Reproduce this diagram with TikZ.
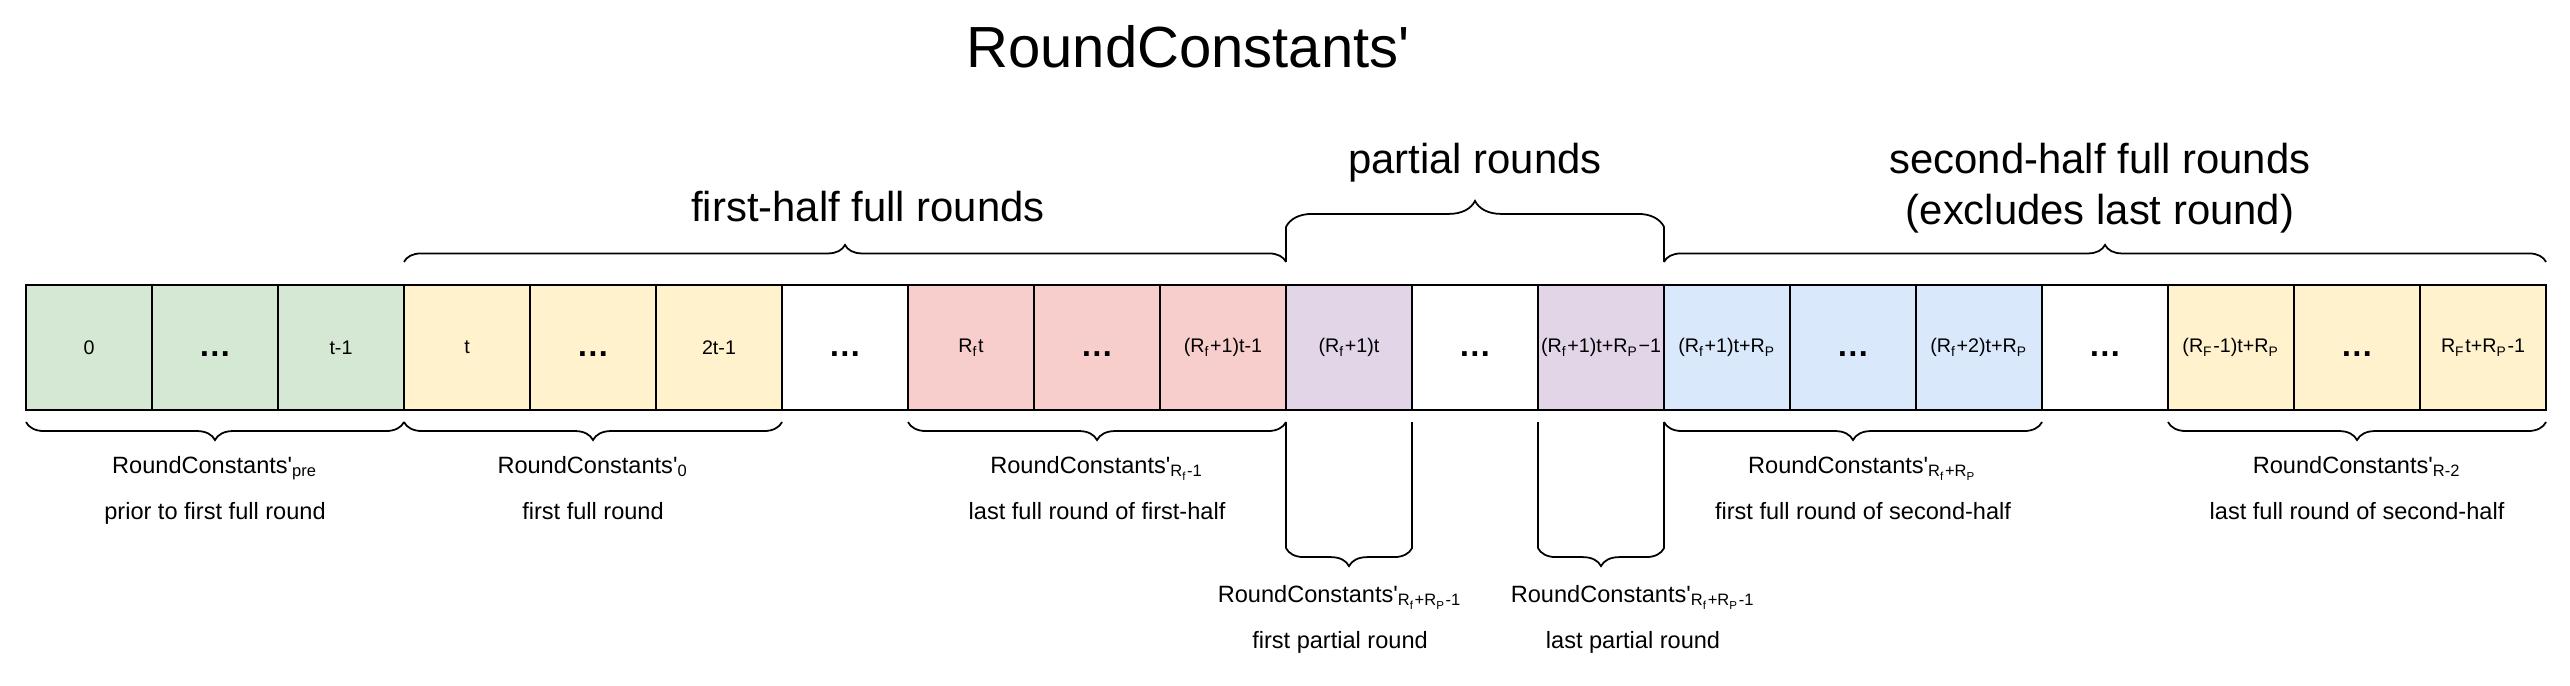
\documentclass[tikz,border=0pt]{standalone}
\usepackage{fontspec}
\setmainfont{Liberation Sans}[Ligatures=TeXOff]
\usetikzlibrary{positioning, decorations.pathreplacing}
\definecolor{rcgreen}{HTML}{D5E8D4}
\definecolor{rcyellow}{HTML}{FFF2CC}
\definecolor{rcred}{HTML}{F8CECC}
\definecolor{rcpurple}{HTML}{E1D5E7}
\definecolor{rcblue}{HTML}{DAE8FC}
\newcommand{\rcname}{RoundConstants'}
\newcommand{\sbs}[1]{\textsubscript{#1}}
\newcommand{\ddd}{\smash{\raisebox{-0.095cm}{\fontsize{9.3}{9.3}\selectfont\bfseries\textellipsis}}}

\begin{document}
\begin{tikzpicture}[x=0.01cm, y=-0.01cm]
  \tikzset{
    cell/.style={rectangle, draw=black, line width=0.6pt, fill=#1, inner sep=0pt, outer sep=0pt,
      minimum width=1.26cm, minimum height=1.25cm, font=\fontsize{5.6}{6.5}\selectfont},
    brc/.style={decorate, decoration={brace, amplitude=0.17cm}, line width=0.5pt},
    brcb/.style={decorate, decoration={brace, amplitude=0.18cm, mirror}, line width=0.5pt},
    head/.style={font=\fontsize{11.9}{14.5}\selectfont, align=center, inner sep=0pt},
    lbl/.style={font=\fontsize{6.7}{13.1}\selectfont, align=center, inner sep=0pt},
  }
  \useasboundingbox (0,0) rectangle (2570,686);

  \node[font=\fontsize{16.5}{18}\selectfont, inner sep=0pt, anchor=south] (title) at (1188,69) {\rcname};

  % the row of constants
  \foreach \c/\t [count=\i from 0] in {rcgreen/0, rcgreen/\ddd, rcgreen/t-1,
      rcyellow/t, rcyellow/\ddd, rcyellow/2t-1, white/\ddd,
      rcred/R\sbs{f}t, rcred/\ddd, rcred/(R\sbs{f}+1)t-1,
      rcpurple/(R\sbs{f}+1)t, white/\ddd, rcpurple/(R\sbs{f}+1)t+R\sbs{P}−1,
      rcblue/(R\sbs{f}+1)t+R\sbs{P}, rcblue/\ddd, rcblue/(R\sbs{f}+2)t+R\sbs{P}, white/\ddd,
      rcyellow/(R\sbs{F}-1)t+R\sbs{P}, rcyellow/\ddd, rcyellow/R\sbs{F}t+R\sbs{P}-1}
    \node[cell=\c] (b\i) at ({89+126*\i},347.5) {\t};

  % braces above
  \draw[brc] ([yshift=0.23cm]b3.north west) -- ([yshift=0.23cm]b9.north east);
  \draw[line width=0.5pt] ([yshift=0.23cm]b10.north west) -- ([yshift=0.58cm]b10.north west)
    decorate[decoration={brace, amplitude=0.26cm}] {-- ([yshift=0.58cm]b12.north east)}
    -- ([yshift=0.23cm]b12.north east);
  \draw[brc] ([yshift=0.23cm]b13.north west) -- ([yshift=0.23cm]b19.north east);

  \node[head, above=0.62cm of b6.north, xshift=0.23cm] (hfirst) {first-half full rounds};
  \node[head, above=1.02cm of b11.north] (hpart) {partial rounds};
  \node[head, above=0.51cm of b16.north, xshift=-0.05cm] (hsecond) {second-half full rounds\\(excludes last round)};

  % braces below
  \draw[brcb] ([yshift=-0.12cm]b0.south west) -- ([yshift=-0.12cm]b2.south east);
  \draw[brcb] ([yshift=-0.12cm]b3.south west) -- ([yshift=-0.12cm]b5.south east);
  \draw[brcb] ([yshift=-0.12cm]b7.south west) -- ([yshift=-0.12cm]b9.south east);
  \draw[line width=0.5pt] ([yshift=-0.12cm]b10.south west) -- ([yshift=-1.38cm]b10.south west)
    decorate[decoration={brace, amplitude=0.18cm, mirror}] {-- ([yshift=-1.38cm]b10.south east)}
    -- ([yshift=-0.12cm]b10.south east);
  \draw[line width=0.5pt] ([yshift=-0.12cm]b12.south west) -- ([yshift=-1.38cm]b12.south west)
    decorate[decoration={brace, amplitude=0.18cm, mirror}] {-- ([yshift=-1.38cm]b12.south east)}
    -- ([yshift=-0.12cm]b12.south east);
  \draw[brcb] ([yshift=-0.12cm]b13.south west) -- ([yshift=-0.12cm]b15.south east);
  \draw[brcb] ([yshift=-0.12cm]b17.south west) -- ([yshift=-0.12cm]b19.south east);

  \node[lbl, below=0.455cm of b1.south] (lpre) {\rcname\sbs{pre}\\prior to first full round};
  \node[lbl, below=0.455cm of b4.south] (lzero) {\rcname\sbs{0}\\first full round};
  \node[lbl, below=0.455cm of b8.south] (lfirsthalf) {\rcname\sbs{R\sbs{f}-1}\\last full round of first-half};
  \node[lbl, below=1.745cm of b10.south, xshift=-0.09cm] (lfirstpart) {\rcname\sbs{R\sbs{f}+R\sbs{P}-1}\\first partial round};
  \node[lbl, below=1.745cm of b12.south, xshift=0.32cm] (llastpart) {\rcname\sbs{R\sbs{f}+R\sbs{P}-1}\\last partial round};
  \node[lbl, below=0.455cm of b14.south, xshift=0.1cm] (lsecondhalf) {\rcname\sbs{R\sbs{f}+R\sbs{P}}\\first full round of second-half};
  \node[lbl, below=0.455cm of b18.south] (llast) {\rcname\sbs{R-2}\\last full round of second-half};
\end{tikzpicture}
\end{document}
